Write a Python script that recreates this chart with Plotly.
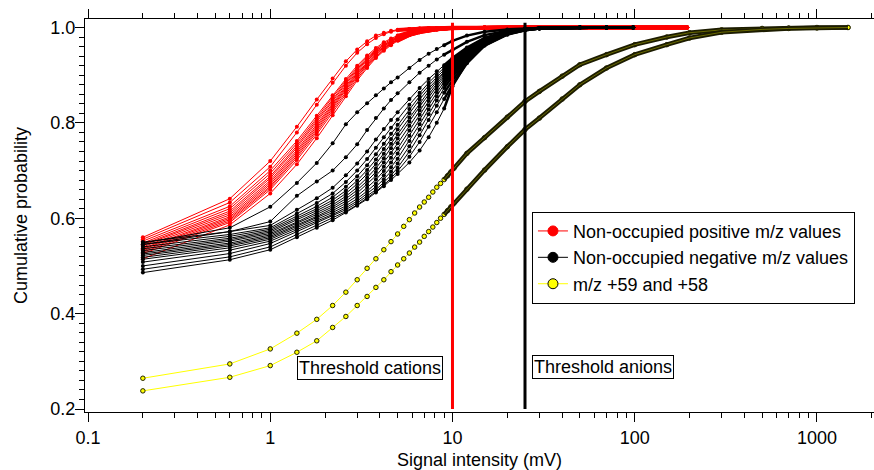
import plotly.graph_objects as go

# ---------------- data ----------------
x_red = [0.2, 0.6, 1.0, 1.4, 1.8, 2.2, 2.6, 3.0, 3.4, 3.8, 4.2, 4.6, 5.0, 5.8, 6.6,
         7.4, 8.2, 10, 15, 25, 50, 100, 150, 194]
red_series = [
    [.560, .641, .720, .792, .849, .893, .929, .954, .971, .983, .989, .993, .995, .997, .998, .999, .999, 1, 1, 1, 1, 1, 1, 1],
    [.556, .633, .708, .780, .838, .884, .920, .947, .965, .978, .986, .991, .994, .997, .998, .999, .999, 1, 1, 1, 1, 1, 1, 1],
    [.552, .625, .700, .762, .815, .858, .892, .920, .941, .957, .969, .977, .983, .990, .994, .996, .998, .999, 1, 1, 1, 1, 1, 1],
    [.548, .620, .694, .757, .810, .854, .888, .916, .938, .954, .966, .975, .981, .989, .993, .996, .998, .999, 1, 1, 1, 1, 1, 1],
    [.545, .615, .688, .752, .806, .850, .885, .913, .935, .952, .964, .973, .980, .988, .993, .996, .997, .999, 1, 1, 1, 1, 1, 1],
    [.543, .611, .684, .748, .802, .846, .882, .910, .933, .950, .963, .972, .979, .988, .992, .995, .997, .999, 1, 1, 1, 1, 1, 1],
    [.540, .607, .679, .743, .797, .842, .878, .907, .930, .948, .961, .971, .978, .987, .992, .995, .997, .999, 1, 1, 1, 1, 1, 1],
    [.537, .603, .675, .739, .793, .838, .875, .904, .927, .946, .960, .970, .977, .987, .992, .995, .997, .999, 1, 1, 1, 1, 1, 1],
    [.535, .600, .671, .735, .789, .835, .872, .902, .925, .944, .958, .968, .976, .986, .991, .995, .997, .999, 1, 1, 1, 1, 1, 1],
    [.532, .597, .667, .731, .785, .831, .869, .899, .923, .942, .957, .967, .975, .985, .991, .994, .997, .999, 1, 1, 1, 1, 1, 1],
    [.529, .594, .664, .727, .781, .827, .866, .897, .921, .940, .955, .966, .974, .985, .991, .994, .996, .999, 1, 1, 1, 1, 1, 1],
    [.526, .591, .660, .722, .776, .823, .862, .893, .918, .938, .953, .965, .973, .984, .990, .994, .996, .999, 1, 1, 1, 1, 1, 1],
    [.515, .586, .652, .713, .768, .816, .856, .889, .915, .936, .951, .963, .972, .984, .990, .994, .996, .998, 1, 1, 1, 1, 1, 1],
]

x_black = [0.2, 0.6, 1.0, 1.4, 1.8, 2.2, 2.6, 3.0, 3.4, 3.8, 4.2, 4.6, 5.0, 5.8, 6.6,
           7.4, 8.2, 9.0, 10, 12, 15, 20, 25, 30, 50, 70, 98]
black_series = [
    [.548, .580, .624, .674, .716, .757, .797, .822, .841, .858, .872, .885, .895, .915, .932, .945, .955, .963, .972, .983, .991, .996, .998, .999, 1, 1, 1],
    [.545, .572, .593, .647, .677, .700, .728, .755, .785, .810, .830, .848, .862, .885, .905, .920, .933, .943, .953, .970, .984, .993, .997, .999, 1, 1, 1],
    [.550, .572, .585, .618, .642, .664, .690, .715, .740, .765, .787, .806, .822, .850, .873, .892, .908, .921, .936, .958, .978, .992, .997, .999, 1, 1, 1],
    [.545, .566, .580, .610, .632, .652, .676, .700, .724, .748, .770, .790, .807, .838, .863, .884, .901, .916, .932, .956, .977, .991, .997, .999, 1, 1, 1],
    [.540, .562, .577, .604, .625, .644, .666, .688, .711, .734, .756, .777, .796, .829, .856, .878, .896, .912, .929, .954, .976, .991, .996, .999, 1, 1, 1],
    [.536, .558, .574, .600, .620, .638, .658, .679, .701, .723, .745, .766, .786, .820, .849, .872, .891, .908, .926, .952, .975, .990, .996, .999, 1, 1, 1],
    [.532, .555, .571, .596, .616, .633, .652, .672, .693, .714, .735, .756, .776, .811, .841, .866, .887, .905, .923, .950, .974, .990, .996, .999, 1, 1, 1],
    [.528, .552, .568, .592, .612, .628, .646, .665, .685, .705, .726, .747, .767, .803, .834, .860, .882, .901, .920, .948, .973, .990, .996, .999, 1, 1, 1],
    [.525, .548, .565, .589, .608, .624, .641, .659, .678, .697, .717, .737, .757, .794, .826, .853, .877, .897, .916, .946, .972, .989, .996, .999, 1, 1, 1],
    [.522, .545, .562, .586, .604, .620, .636, .653, .671, .689, .708, .727, .746, .784, .817, .846, .871, .892, .912, .944, .971, .989, .996, .999, 1, 1, 1],
    [.518, .542, .559, .583, .601, .616, .631, .647, .664, .681, .699, .717, .736, .773, .807, .837, .864, .887, .908, .941, .970, .988, .995, .998, 1, 1, 1],
    [.514, .538, .556, .580, .598, .612, .626, .641, .657, .673, .690, .707, .725, .762, .797, .828, .856, .881, .903, .938, .968, .988, .995, .998, 1, 1, 1],
    [.508, .533, .552, .577, .594, .608, .622, .636, .651, .666, .682, .698, .715, .751, .786, .818, .847, .873, .897, .934, .966, .987, .995, .998, 1, 1, 1],
    [.500, .526, .547, .572, .590, .604, .618, .632, .646, .660, .675, .690, .706, .740, .774, .806, .836, .863, .889, .930, .964, .986, .994, .998, 1, 1, 1],
    [.493, .519, .540, .566, .585, .600, .614, .628, .642, .656, .670, .684, .699, .729, .760, .792, .822, .850, .880, .925, .962, .986, .994, .998, 1, 1, 1],
    [.486, .513, .534, .560, .580, .596, .612, .626, .640, .654, .667, .680, .693, .717, .742, .770, .800, .830, .877, .928, .962, .985, .994, .998, 1, 1, 1],
]

x_yellow = [0.2, 0.6, 1.0, 1.4, 1.8, 2.2, 2.6, 3.0, 3.4, 3.8, 4.2, 4.6, 5.0, 5.4, 5.8, 6.2,
            6.6, 7.0, 7.4, 7.8, 8.2, 8.6, 9.0, 9.4, 9.8, 10.2, 12, 15, 20, 25, 30, 40,
            50, 70, 100, 150, 200, 300, 500, 700, 1000, 1480]
yellow_mz59 = [.2645, .2945, .326, .359, .388, .417, .445, .471, .495, .515, .534, .551, .567,
               .583, .597, .611, .6235, .634, .644, .655, .665, .673, .681, .689, .697, .705,
               .736, .769, .812, .845, .866, .898, .922, .943, .964, .980, .989, .995, .998,
               .999, 1.0, 1.0]
yellow_mz58 = [.238, .2665, .291, .319, .343, .371, .394, .417, .436, .455, .471, .488, .502,
               .515, .527, .5395, .55, .562, .572, .5815, .591, .60, .608, .616, .624, .632,
               .661, .701, .750, .786, .810, .850, .880, .915, .943, .964, .978, .990, .996,
               .998, .999, 1.0]

thresholds = [10, 25]              # mV: cations, anions
threshold_names = ["Threshold cations", "Threshold anions"]
threshold_span = [0.2, 1.01]

legend_names = ["Non-occupied positive m/z values",
                "Non-occupied negative m/z values",
                "m/z +59 and +58"]

x_ticks = [0.1, 1, 10, 100, 1000]
x_ticktext = ["0.1", "1", "10", "100", "1000"]
y_ticks = [0.2, 0.4, 0.6, 0.8, 1.0]
y_ticktext = ["0.2", "0.4", "0.6", "0.8", "1.0"]

# ---------------- figure ----------------
FONT = "Liberation Sans, Arial, Helvetica, sans-serif"
FS = 18
RED = "#ff0000"
BLACK = "#000000"
YELLOW = "#ffff00"

fig = go.Figure()


def tail(xs, ys, start):
    px = [x for x in xs if x >= start]
    py = [y for x, y in zip(xs, ys) if x >= start]
    return px, py


for ys in red_series:
    fig.add_trace(go.Scatter(x=x_red, y=ys, mode="lines+markers", showlegend=False,
                             line=dict(color=RED, width=1),
                             marker=dict(color=RED, size=4, line=dict(width=0))))
    tx, ty = tail(x_red, ys, 5.0)
    fig.add_trace(go.Scatter(x=tx, y=ty, mode="lines", showlegend=False,
                             line=dict(color=RED, width=3.5)))

for ys in black_series:
    fig.add_trace(go.Scatter(x=x_black, y=ys, mode="lines+markers", showlegend=False,
                             line=dict(color=BLACK, width=1),
                             marker=dict(color=BLACK, size=4, line=dict(width=0))))
    tx, ty = tail(x_black, ys, 9.0)
    fig.add_trace(go.Scatter(x=tx, y=ty, mode="lines", showlegend=False,
                             line=dict(color=BLACK, width=2.5)))

for ys in (yellow_mz59, yellow_mz58):
    fig.add_trace(go.Scatter(x=x_yellow, y=ys, mode="lines+markers", showlegend=False,
                             line=dict(color=YELLOW, width=1),
                             marker=dict(color=YELLOW, size=4.5,
                                         line=dict(color="#222200", width=1))))
    tx, ty = tail(x_yellow, ys, 9.0)
    fig.add_trace(go.Scatter(x=tx, y=ty, mode="lines", showlegend=False,
                             line=dict(color="#1c1c00", width=4.5)))
    fig.add_trace(go.Scatter(x=tx, y=ty, mode="lines", showlegend=False,
                             line=dict(color="rgba(170,170,0,0.55)", width=1)))

# threshold lines
for xv, col in zip(thresholds, [RED, BLACK]):
    fig.add_trace(go.Scatter(x=[xv, xv], y=threshold_span, mode="lines",
                             showlegend=False, line=dict(color=col, width=3)))

# legend entries
for name, col, edge in zip(legend_names, [RED, BLACK, YELLOW], [RED, BLACK, BLACK]):
    fig.add_trace(go.Scatter(x=[None], y=[None], mode="lines+markers", name=name,
                             line=dict(color=col, width=1),
                             marker=dict(color=col, size=10, line=dict(color=edge, width=1))))

# threshold labels
fig.add_annotation(x=0.3612, y=0.0815, xref="paper", yref="paper",
                   text=threshold_names[0], showarrow=False,
                   font=dict(family=FONT, size=FS, color="black"),
                   bordercolor="black", borderwidth=1, borderpad=1, bgcolor="white")
fig.add_annotation(x=0.6565, y=0.0828, xref="paper", yref="paper",
                   text=threshold_names[1], showarrow=False,
                   font=dict(family=FONT, size=FS, color="black"),
                   bordercolor="black", borderwidth=1, borderpad=1, bgcolor="white")

minor_x = [m * 10 ** k for k in range(-2, 4) for m in range(2, 10)]

fig.update_layout(
    width=874, height=470,
    margin=dict(l=85, r=0, t=19, b=58),
    paper_bgcolor="white", plot_bgcolor="white",
    font=dict(family=FONT, size=FS, color="black"),
    legend=dict(x=0.5665, y=0.5096, xanchor="left", yanchor="top",
                bgcolor="white", bordercolor="black", borderwidth=1,
                font=dict(family=FONT, size=FS, color="black"),
                tracegroupgap=0, itemwidth=30),
    xaxis=dict(type="log", range=[-1.0165, 3.313], automargin=False,
               showline=True, linecolor="black", linewidth=1, mirror="ticks",
               ticks="outside", ticklen=9, tickcolor="black", tickwidth=1,
               tickvals=x_ticks, ticktext=x_ticktext,
               showgrid=False, zeroline=False,
               minor=dict(ticks="outside", ticklen=5, tickcolor="black",
                          tickmode="array", tickvals=minor_x, showgrid=False),
               title=dict(text="Signal intensity (mV)", font=dict(size=FS), standoff=6)),
    yaxis=dict(range=[0.1937, 1.0178], automargin=False,
               showline=True, linecolor="black", linewidth=1, mirror=False,
               ticks="outside", ticklen=9, tickcolor="black", tickwidth=1,
               ticklabelstandoff=-4,
               tickvals=y_ticks, ticktext=y_ticktext,
               showgrid=False, zeroline=False,
               minor=dict(ticks="outside", ticklen=5, tickcolor="black",
                          dtick=0.02, showgrid=False),
               title=dict(text="Cumulative probability", font=dict(size=FS), standoff=18)),
)

fig.write_html("out.html", config={"displayModeBar": False},
               post_script="document.body.style.margin='0px';"
                           "document.body.style.padding='0px';"
                           "document.body.style.overflow='hidden';")
